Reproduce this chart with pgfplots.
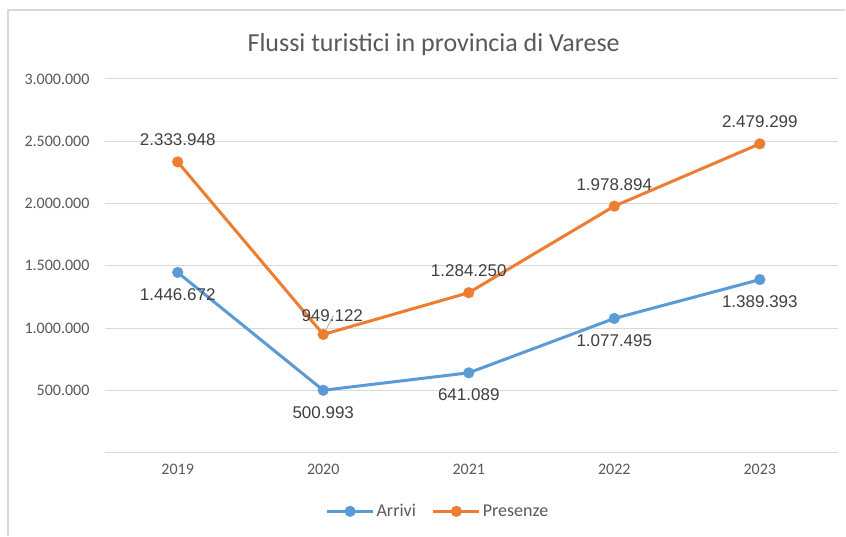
\documentclass[border=0pt]{standalone}
\usepackage{pgfplots}
\pgfplotsset{compat=1.18}
\usepackage{fontspec}
\setmainfont{Carlito}
\newfontfamily\lab{Liberation Sans}
\definecolor{cblue}{HTML}{5B9BD5}
\definecolor{corange}{HTML}{ED7D31}
\definecolor{tickc}{HTML}{595959}
\definecolor{labc}{HTML}{404040}
\definecolor{gridc}{HTML}{D9D9D9}
\begin{document}
\begin{tikzpicture}[x=1pt,y=1pt]
\path[fill=white] (0,0) rectangle (846,536);
\draw[gridc, line width=1.2pt] (8,0) -- (8,526) -- (846,526);
\node[font=\fontsize{26}{30}\selectfont, text=tickc] at (434,491) {Flussi turistici in provincia di Varese};
\begin{axis}[
  at={(105pt,83pt)}, anchor=south west,
  scale only axis, width=734pt, height=374pt,
  xmin=-0.5, xmax=4.54, ymin=0, ymax=3000000,
  xtick={0,1,2,3,4}, xticklabels={2019,2020,2021,2022,2023},
  ytick={500000,1000000,1500000,2000000,2500000,3000000},
  yticklabels={500.000,1.000.000,1.500.000,2.000.000,2.500.000,3.000.000},
  scaled y ticks=false,
  axis x line*=bottom, axis y line*=left,
  x axis line style={draw=gridc, line width=1.2pt, -},
  y axis line style={draw=none},
  major tick length=0pt,
  ymajorgrids, grid style={gridc, line width=1pt},
  tick label style={font=\fontsize{16}{19}\selectfont, text=tickc},
  xticklabel style={yshift=-8pt},
  yticklabel style={xshift=-12pt},
  clip=false,
  nodes near coords,
  point meta=explicit symbolic,
  every node near coord/.append style={font=\lab\fontsize{17}{20}\selectfont, text=labc},
  legend style={at={(0.454,-0.157)}, anchor=center, draw=none, legend columns=2,
     font=\fontsize{18}{21}\selectfont, text=tickc,
     /tikz/every even column/.append style={column sep=14pt}},
  legend image code/.code={\draw[#1, line width=3pt] (0pt,0pt) -- (46pt,0pt); \fill[#1] (23pt,0pt) circle (4pt);},
]
\addplot[cblue, line width=3pt, mark=*, mark size=4pt, mark options={fill=cblue, draw=cblue},
  every node near coord/.append style={anchor=center, yshift=-22pt}]
  coordinates {(0,1446672)[1.446.672] (1,500993)[500.993] (2,641089)[641.089] (3,1077495)[1.077.495] (4,1389393)[1.389.393]};
\addlegendentry{Arrivi}
\addplot[corange, line width=3pt, mark=*, mark size=4pt, mark options={fill=corange, draw=corange},
  every node near coord/.append style={anchor=center, yshift=22pt}]
  coordinates {(0,2333948)[2.333.948] (1,949122)[] (2,1284250)[1.284.250] (3,1978894)[1.978.894] (4,2479299)[2.479.299]};
\addlegendentry{Presenze}
\addplot[draw=none, mark=none, forget plot,
  every node near coord/.append style={anchor=center, yshift=19pt, xshift=9pt}]
  coordinates {(1,949122)[949.122]};
\draw[gray!70, line width=0.8pt] (axis cs:1.02,990000) -- (axis cs:1.07,1100000);
\end{axis}
\end{tikzpicture}
\end{document}
